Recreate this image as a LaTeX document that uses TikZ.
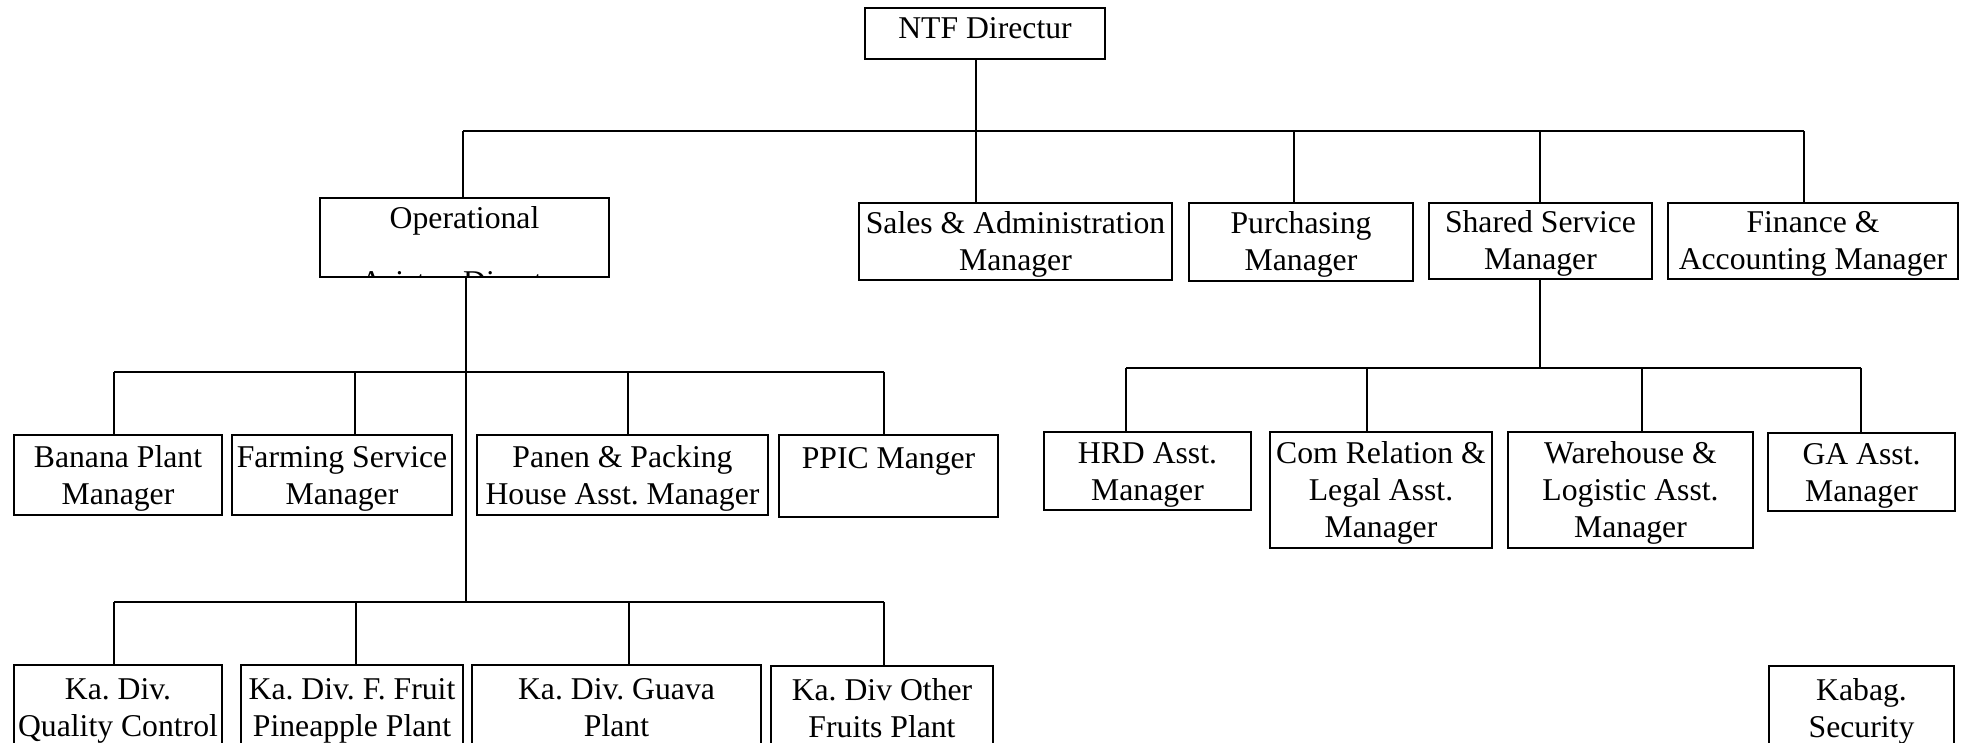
\documentclass[tikz,border=0pt]{standalone}
\usepackage{fontspec}
\setmainfont{Liberation Serif}
\frenchspacing
\newcommand\ms{\rule[-8pt]{0pt}{37pt}}
\begin{document}
\begin{tikzpicture}[x=1pt,y=-1pt,
  box/.style={draw, line width=2pt, inner sep=0pt, align=center,
    font=\fontsize{31.7pt}{37pt}\selectfont\frenchspacing},
  conn/.style={line width=1.7pt},
  txt/.style={inner sep=0pt, font=\fontsize{31.7pt}{37pt}\selectfont\frenchspacing}]
\useasboundingbox (0,0) rectangle (1966,743);
\clip (0,0) rectangle (1966,743);

% top
\node[box, minimum width=240pt, minimum height=51pt] (ntf) at (985,33.5) {\ms\raisebox{5pt}{NTF Directur}};

% level 1
\node[box, minimum width=289pt, minimum height=79pt] (op) at (464.5,237.5) {};
\begin{scope}
  \clip (op.north west) rectangle (op.south east);
  \node[txt, anchor=base] (opa) at (464.5,229) {Operational};
  \node[txt, anchor=base] (opb) at (464.5,293) {Asisten Director};
\end{scope}
\node[box, minimum width=313pt, minimum height=77pt] (sales) at (1015.5,241.5) {\ms Sales \& Administration\\\ms Manager};
\node[box, minimum width=224pt, minimum height=78pt] (purch) at (1301,242) {\ms Purchasing\\\ms Manager};
\node[box, minimum width=223pt, minimum height=76pt] (shared) at (1540.5,241) {\ms Shared Service\\\ms Manager};
\node[box, minimum width=290pt, minimum height=76pt] (fin) at (1813,241) {\ms Finance \&\\\ms Accounting Manager};

% level 2 (operational)
\node[box, minimum width=208pt, minimum height=80pt] (banana) at (118,475) {\ms Banana Plant\\\ms Manager};
\node[box, minimum width=220pt, minimum height=80pt] (farm) at (342,475) {\ms Farming Service\\\ms Manager};
\node[box, minimum width=291pt, minimum height=80pt] (panen) at (622.5,475) {\ms Panen \& Packing\\\ms House Asst. Manager};
\node[box, minimum width=219pt, minimum height=82pt] (ppic) at (888.5,476) {\ms PPIC Manger\\\ms};

% level 2 (shared service)
\node[box, minimum width=207pt, minimum height=78pt] (hrd) at (1147.5,471) {\ms HRD Asst.\\\ms Manager};
\node[box, minimum width=222pt, minimum height=116pt] (com) at (1381,490) {\ms Com Relation \&\\\ms Legal Asst.\\\ms Manager};
\node[box, minimum width=245pt, minimum height=116pt] (ware) at (1630.5,490) {\ms Warehouse \&\\\ms Logistic Asst.\\\ms Manager};
\node[box, minimum width=187pt, minimum height=78pt] (ga) at (1861.5,472) {\ms GA Asst.\\\ms Manager};

% level 3
\node[box, minimum width=208pt, minimum height=84pt] (qc) at (118,707) {\ms Ka. Div.\\\ms Quality Control};
\node[box, minimum width=222pt, minimum height=84pt] (ff) at (352,707) {\ms Ka. Div. F. Fruit\\\ms Pineapple Plant};
\node[box, minimum width=289pt, minimum height=84pt] (guava) at (616.5,707) {\ms Ka. Div. Guava\\\ms Plant};
\node[box, minimum width=222pt, minimum height=84pt] (other) at (882,708) {\ms Ka. Div Other\\\ms Fruits Plant};
\node[box, minimum width=185pt, minimum height=84pt] (kabag) at (1861.5,708) {\ms Kabag.\\\ms Security};

% connectors: top bus
\coordinate (t0) at (976,131);
\coordinate (tL) at (463,131);
\coordinate (tP) at (1294,131);
\coordinate (tS) at (1540,131);
\coordinate (tR) at (1804,131);
\draw[conn] (t0 |- ntf.south) -- (t0 |- sales.north);
\draw[conn] (tL) -- (tR);
\draw[conn] (tL) -- (tL |- op.north);
\draw[conn] (tP) -- (tP |- purch.north);
\draw[conn] (tS) -- (tS |- shared.north);
\draw[conn] (tR) -- (tR |- fin.north);

% operational trunk
\coordinate (o0) at (466,602);
\draw[conn] (o0 |- op.south) -- (o0);
\coordinate (a1) at (114,372);
\coordinate (a2) at (355,372);
\coordinate (a3) at (628,372);
\coordinate (a4) at (884,372);
\draw[conn] (a1) -- (a4);
\draw[conn] (a1) -- (a1 |- banana.north);
\draw[conn] (a2) -- (a2 |- farm.north);
\draw[conn] (a3) -- (a3 |- panen.north);
\draw[conn] (a4) -- (a4 |- ppic.north);

\coordinate (c1) at (114,602);
\coordinate (c2) at (356,602);
\coordinate (c3) at (629,602);
\coordinate (c4) at (884,602);
\draw[conn] (c1) -- (c4);
\draw[conn] (c1) -- (c1 |- qc.north);
\draw[conn] (c2) -- (c2 |- ff.north);
\draw[conn] (c3) -- (c3 |- guava.north);
\draw[conn] (c4) -- (c4 |- other.north);

% shared service
\coordinate (s0) at (1540,368);
\coordinate (s1) at (1126,368);
\coordinate (s2) at (1367,368);
\coordinate (s3) at (1642,368);
\coordinate (s4) at (1861,368);
\draw[conn] (s0 |- shared.south) -- (s0);
\draw[conn] (s1) -- (s4);
\draw[conn] (s1) -- (s1 |- hrd.north);
\draw[conn] (s2) -- (s2 |- com.north);
\draw[conn] (s3) -- (s3 |- ware.north);
\draw[conn] (s4) -- (s4 |- ga.north);
\end{tikzpicture}
\end{document}
